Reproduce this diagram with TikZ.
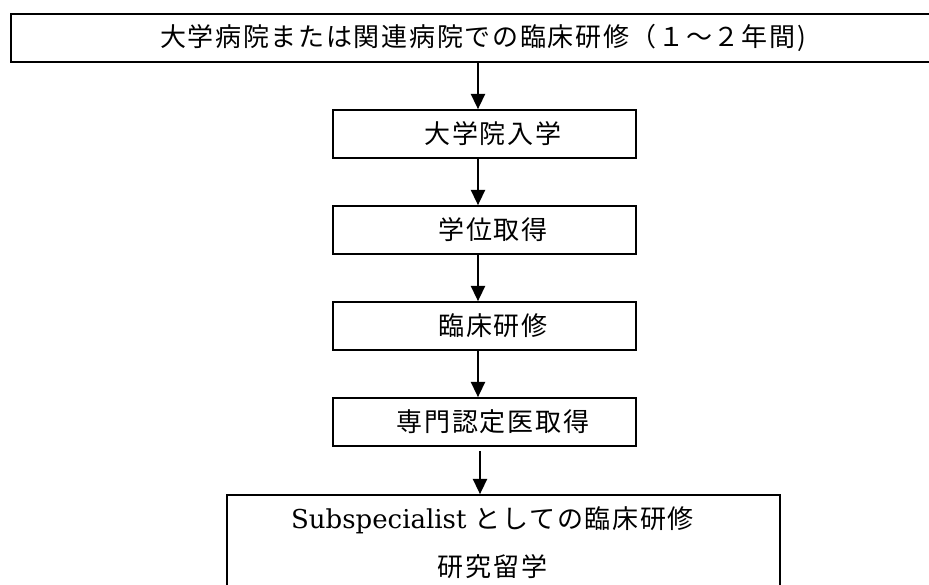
\documentclass[tikz,border=0pt]{standalone}
\usepackage{fontspec}
\setmainfont{DejaVu Serif}
\newfontfamily\jpfont[LetterSpace=6.5]{Noto Sans CJK JP}
\usetikzlibrary{arrows.meta}
\newcommand{\stagefont}{\fontsize{19.5pt}{36pt}\selectfont}
\tikzset{
	stagebox/.style={shape=rectangle, draw, line width=1.2pt, minimum height=36pt, inner sep=0pt},
	stagetext/.style={anchor=center, align=center, inner sep=0pt, font=\stagefont\jpfont},
	flow/.style={line width=1.7pt, -{Triangle[length=11.5pt, width=10.5pt]}}
}

\begin{document}
\begin{tikzpicture}[x=0.75pt, y=-0.75pt]
	\clip (0, 0) rectangle (929, 585);
	% Boxes, texts and arrows:
	\node[stagebox, minimum width=708pt] (top) at (483, 38){} node[stagetext] (toptext) at (483, 38){大学病院または関連病院での臨床研修（１～２年間)};
	\node[stagebox, minimum width=227.25pt] (entry) at (484.5, 134){} node[stagetext] (entrytext) at (493, 134){大学院入学};
	\node[stagebox, minimum width=227.25pt] (degree) at (484.5, 230){} node[stagetext] (degreetext) at (493, 230){学位取得};
	\node[stagebox, minimum width=227.25pt] (clinic) at (484.5, 326){} node[stagetext] (clinictext) at (493, 326){臨床研修};
	\node[stagebox, minimum width=227.25pt] (board) at (484.5, 422){} node[stagetext] (boardtext) at (493, 422){専門認定医取得};
	\node[stagebox, minimum width=414.75pt, minimum height=108.75pt] (sub) at (503.5, 567.5){} node[stagetext] (subtext) at (492.5, 543){{\rmfamily Subspecialist }としての臨床研修\\研究留学};
	\coordinate (col) at (478, 0);
	\coordinate (col2) at (480, 0);
	\draw[flow] (top.south -| col) -- (entry.north -| col);
	\draw[flow] (entry.south -| col) -- (degree.north -| col);
	\draw[flow] (degree.south -| col) -- (clinic.north -| col);
	\draw[flow] (clinic.south -| col) -- (board.north -| col);
	\draw[flow, shorten <=3pt] (board.south -| col2) -- (sub.north -| col2);
\end{tikzpicture}
\end{document}
